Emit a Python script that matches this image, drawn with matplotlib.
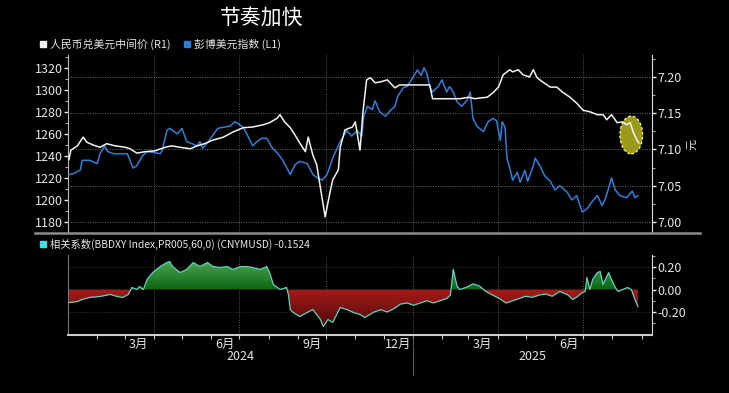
import numpy as np
import pandas as pd
import matplotlib
matplotlib.use('Agg')
import matplotlib.pyplot as plt
import matplotlib.dates as mdates
import matplotlib.transforms as mtransforms
from matplotlib.patches import Ellipse, Rectangle
from matplotlib.path import Path

plt.rcParams['font.family'] = ['Noto Sans CJK SC', 'DejaVu Sans']
plt.rcParams['axes.unicode_minus'] = False

# values; x given as days after 2024-01-01
start = pd.Timestamp('2024-01-01')

bbdxy_days = [1, 6, 13, 15, 23, 31, 34, 39, 42, 48,
              63, 69, 73, 79, 84, 98, 100, 105, 108, 116,
              121, 126, 132, 137, 140, 143, 149, 159, 165, 172,
              177, 181, 186, 191, 196, 202, 206, 211, 217, 223,
              228, 236, 241, 246, 254, 260, 265, 270, 275, 281,
              289, 296, 301, 307, 312, 314, 318, 323, 326, 331,
              337, 342, 347, 350, 356, 360, 366, 371, 375, 378,
              381, 384, 387, 393, 397, 402, 405, 409, 413, 418,
              424, 427, 430, 434, 441, 446, 451, 455, 459, 461,
              464, 466, 469, 472, 477, 480, 485, 488, 494, 496,
              501, 506, 512, 517, 522, 530, 535, 540, 546, 551,
              556, 562, 567, 570, 573, 577, 581, 586, 593, 599,
              602, 605]
bbdxy = [1223, 1224, 1227, 1236, 1236, 1233, 1242, 1249, 1244, 1242,
         1242, 1229, 1231, 1240, 1244, 1242, 1245, 1263, 1265, 1260,
         1265, 1253, 1251, 1249, 1253, 1247, 1253, 1265, 1266, 1267,
         1271, 1269, 1266, 1258, 1249, 1254, 1256, 1256, 1247, 1242,
         1236, 1223, 1232, 1235, 1233, 1223, 1220, 1218, 1223, 1238,
         1253, 1263, 1258, 1263, 1258, 1276, 1285, 1282, 1290, 1280,
         1276, 1281, 1285, 1294, 1302, 1303, 1311, 1318, 1313, 1320,
         1315, 1303, 1298, 1303, 1309, 1298, 1303, 1298, 1289, 1285,
         1291, 1298, 1274, 1267, 1262, 1271, 1274, 1272, 1254, 1271,
         1266, 1238, 1229, 1218, 1225, 1216, 1227, 1217, 1231, 1238,
         1231, 1222, 1217, 1209, 1213, 1207, 1200, 1204, 1189, 1192,
         1198, 1204, 1195, 1200, 1208, 1220, 1209, 1204, 1202, 1208,
         1202, 1204]

cny_days = [1, 3, 10, 16, 20, 27, 34, 41, 50, 61,
            66, 73, 82, 92, 103, 110, 119, 130, 137, 145,
            154, 165, 175, 186, 196, 207, 214, 222, 225, 230,
            236, 241, 246, 252, 255, 260, 264, 268, 271, 273,
            278, 281, 287, 289, 294, 302, 305, 310, 313, 317,
            321, 326, 331, 339, 347, 352, 360, 368, 374, 384,
            387, 395, 406, 416, 425, 432, 437, 445, 451, 457,
            462, 469, 472, 478, 483, 490, 494, 498, 504, 512,
            519, 525, 533, 540, 547, 554, 562, 568, 572, 577,
            583, 589, 593, 597, 600, 604, 606]
cny_fix = [7.086, 7.099, 7.105, 7.117, 7.110, 7.106, 7.103, 7.108, 7.105, 7.103,
           7.101, 7.095, 7.097, 7.098, 7.103, 7.105, 7.103, 7.101, 7.105, 7.108,
           7.113, 7.117, 7.124, 7.130, 7.131, 7.134, 7.137, 7.143, 7.148, 7.138,
           7.130, 7.120, 7.109, 7.097, 7.117, 7.092, 7.079, 7.047, 7.023, 7.007,
           7.040, 7.058, 7.072, 7.103, 7.127, 7.131, 7.138, 7.099, 7.150, 7.196,
           7.199, 7.192, 7.193, 7.196, 7.185, 7.189, 7.189, 7.189, 7.189, 7.189,
           7.170, 7.170, 7.170, 7.170, 7.172, 7.170, 7.171, 7.172, 7.178, 7.186,
           7.203, 7.210, 7.207, 7.210, 7.203, 7.200, 7.210, 7.199, 7.193, 7.186,
           7.186, 7.179, 7.172, 7.164, 7.154, 7.152, 7.148, 7.148, 7.141, 7.148,
           7.137, 7.138, 7.134, 7.137, 7.124, 7.113, 7.109]

corr_days = [1, 10, 15, 23, 34, 45, 52, 58, 64, 68,
             73, 76, 80, 84, 90, 98, 105, 108, 111, 119,
             126, 133, 140, 148, 154, 161, 169, 175, 183, 190,
             196, 204, 211, 214, 218, 225, 232, 234, 236, 239,
             246, 254, 260, 268, 271, 276, 281, 289, 296, 303,
             310, 315, 325, 332, 339, 346, 353, 360, 367, 374,
             381, 388, 395, 402, 406, 409, 413, 416, 423, 430,
             437, 444, 451, 458, 465, 472, 479, 486, 493, 500,
             507, 514, 522, 530, 536, 541, 546, 549, 551, 554,
             557, 562, 565, 568, 572, 574, 577, 581, 584, 589,
             594, 598, 602, 605]
corr = [-0.116, -0.107, -0.089, -0.071, -0.062, -0.044, -0.062, -0.071, -0.044, 0.018,
        0.000, 0.027, 0.000, 0.089, 0.151, 0.204, 0.240, 0.249, 0.204, 0.151,
        0.178, 0.240, 0.204, 0.240, 0.204, 0.196, 0.204, 0.178, 0.204, 0.204,
        0.196, 0.178, 0.204, 0.151, 0.044, 0.000, 0.018, -0.044, -0.178, -0.204,
        -0.240, -0.204, -0.178, -0.267, -0.329, -0.267, -0.293, -0.160, -0.178, -0.204,
        -0.222, -0.249, -0.200, -0.180, -0.200, -0.170, -0.130, -0.120, -0.140, -0.120,
        -0.100, -0.120, -0.100, -0.080, -0.050, 0.180, 0.030, 0.000, 0.020, 0.050,
        0.030, -0.020, -0.050, -0.080, -0.120, -0.100, -0.080, -0.060, -0.070, -0.050,
        -0.040, -0.060, -0.018, -0.044, -0.089, -0.062, -0.027, -0.018, 0.107, 0.000,
        0.089, 0.151, 0.160, 0.044, 0.116, 0.151, 0.089, 0.018, -0.018, 0.000,
        0.018, 0.000, -0.089, -0.152]

left_ticks = [1180, 1200, 1220, 1240, 1260, 1280, 1300, 1320]
right_ticks = [7.00, 7.05, 7.10, 7.15, 7.20]
corr_ticks = [-0.20, 0.00, 0.20]
month_labels = ['3月', '6月', '9月', '12月', '3月', '6月']
month_label_dates = pd.to_datetime(['2024-03-16', '2024-06-16', '2024-09-16',
                                    '2024-12-16', '2025-03-16', '2025-06-16'])
quarter_lines = pd.to_datetime(['2024-04-01', '2024-07-01', '2024-10-01',
                                '2025-01-01', '2025-04-01', '2025-07-01'])

bbdxy_dates = start + pd.to_timedelta(bbdxy_days, unit='D')
cny_dates = start + pd.to_timedelta(cny_days, unit='D')
corr_dates = start + pd.to_timedelta(corr_days, unit='D')

BG = 'black'
FG = '#e6e6e6'
BLUE = '#2f7fd9'
WHITE = '#f2f2f2'
TEAL = '#62d2c2'

fig = plt.figure(figsize=(7.29, 3.93), dpi=100, facecolor=BG)
ax = fig.add_axes([68 / 729, 1 - 233 / 393, 584 / 729, 178 / 393], facecolor=BG)
ax2 = ax.twinx()
axb = fig.add_axes([68 / 729, 1 - 335 / 393, 584 / 729, 80 / 393], facecolor=BG)

xmin, xmax = pd.Timestamp('2024-01-01'), pd.Timestamp('2025-09-12')

# top panel
ax.plot(bbdxy_dates, bbdxy, color=BLUE, lw=1.1, zorder=3)
ax2.plot(cny_dates, cny_fix, color=WHITE, lw=1.1, zorder=4)
ax.set_xlim(xmin, xmax)
ax.set_ylim(1172.9, 1331.6)
ax2.set_ylim(6.9848, 7.2303)

for q in quarter_lines:
    ax.axvline(q, color='#5a5a5a', lw=0.7, ls=(0, (1, 1.5)), zorder=1)
    axb.axvline(q, color='#5a5a5a', lw=0.7, ls=(0, (1, 1.5)), zorder=1)
for t in right_ticks:
    ax2.axhline(t, color='#6a6a6a', lw=0.7, ls=(0, (1, 1.5)), zorder=1)

ax.set_yticks(left_ticks)
ax.set_yticks(np.arange(1170, 1331, 10), minor=True)
ax.set_xticks([])
ax2.set_yticks(right_ticks)
ax2.set_yticklabels(['%.2f' % t for t in right_ticks])
ax2.set_yticks(np.arange(7.0, 7.23, 0.025), minor=True)
ax.tick_params(axis='y', colors=FG, labelsize=9, length=3, width=1, pad=1)
ax.tick_params(axis='y', which='minor', colors='#aaaaaa', length=2, width=0.8)
ax2.tick_params(axis='y', colors=FG, labelsize=9, length=3, width=1, pad=1)
ax2.tick_params(axis='y', which='minor', colors='#aaaaaa', length=2, width=0.8)
ax2.set_ylabel('元', color=FG, fontsize=8, rotation=90, labelpad=4)

for a in (ax, ax2):
    for s in ('top', 'bottom'):
        a.spines[s].set_visible(False)
ax.spines['left'].set_color('#bbbbbb')
ax.spines['right'].set_visible(False)
ax2.spines['left'].set_visible(False)
ax2.spines['right'].set_color('#dddddd')

# highlight ellipse on the latest drop
ell = Ellipse((mdates.date2num(pd.Timestamp('2025-08-21')), 7.120), width=24, height=0.052,
              facecolor='#9c9a1c', edgecolor='#f2f070', lw=1.0, ls=(0, (2, 1.5)), zorder=3)
ax2.add_patch(ell)

# bottom panel: correlation with gradient fills
axb.plot(corr_dates, corr, color=TEAL, lw=0.9, zorder=4)
axb.set_xlim(xmin, xmax)
ylo, yhi = -0.4044, 0.3067
poly = axb.fill_between(corr_dates, corr, 0, facecolor='none', edgecolor='none')
clip = Path.make_compound_path(*poly.get_paths())
yy = np.linspace(ylo, yhi, 300)
img = np.zeros((len(yy), 1, 3))
g_lo, g_hi = np.array([0.04, 0.40, 0.07]), np.array([0.30, 0.64, 0.32])
r_hi, r_lo = np.array([0.66, 0.10, 0.10]), np.array([0.28, 0.04, 0.04])
for k, v in enumerate(yy):
    if v >= 0:
        t = v / 0.25
        img[k, 0] = g_lo * (1 - min(t, 1)) + g_hi * min(t, 1)
    else:
        t = v / -0.35
        img[k, 0] = r_hi * (1 - min(t, 1)) + r_lo * min(t, 1)
im = axb.imshow(img, extent=[mdates.date2num(xmin), mdates.date2num(xmax), ylo, yhi],
                origin='lower', aspect='auto', interpolation='bilinear', zorder=2)
im.set_clip_path(clip, transform=axb.transData)
axb.set_xlim(xmin, xmax)
axb.set_ylim(ylo, yhi)
for t in (-0.2, 0.2):
    axb.axhline(t, color='#3c3c3c', lw=0.6, ls=(0, (1, 1.5)), zorder=1)

axb.yaxis.tick_right()
axb.set_yticks(corr_ticks)
axb.set_yticklabels(['%.2f' % t for t in corr_ticks])
axb.set_yticks([-0.3, -0.1, 0.1, 0.3], minor=True)
axb.tick_params(axis='y', colors=FG, labelsize=9, length=3, width=1, pad=1)
axb.tick_params(axis='y', which='minor', colors='#aaaaaa', length=2, width=0.8)
axb.spines['top'].set_visible(False)
axb.spines['left'].set_color('#777777')
axb.spines['right'].set_color('#dddddd')
axb.spines['bottom'].set_color('#cccccc')
axb.spines['bottom'].set_linewidth(1.5)

axb.set_xticks(month_label_dates)
axb.set_xticklabels(month_labels)
axb.set_xticks(pd.date_range('2024-02-01', '2025-09-01', freq='MS'), minor=True)
axb.tick_params(axis='x', which='major', colors=FG, labelsize=9, length=0, pad=2)
axb.tick_params(axis='x', which='minor', colors='#cccccc', length=3, width=0.8)

bt = mtransforms.blended_transform_factory(axb.transData, axb.transAxes)
axb.plot([pd.Timestamp('2025-01-01')] * 2, [0, -0.5], transform=bt, color='#6a6a6a',
         lw=0.6, clip_on=False)
axb.text(pd.Timestamp('2024-07-02'), -0.27, '2024', transform=bt, color=FG, fontsize=9,
         ha='center', va='center')
axb.text(pd.Timestamp('2025-05-08'), -0.27, '2025', transform=bt, color=FG, fontsize=9,
         ha='center', va='center')

# title, legends, separators
fig.text(262 / 729, 1 - 18 / 393, '节奏加快', color='white', fontsize=15, ha='center', va='center')
fig.patches.append(Rectangle((40 / 729, 1 - 47 / 393), 6 / 729, 6 / 393, color=WHITE,
                             transform=fig.transFigure))
fig.text(50 / 729, 1 - 44 / 393, '人民币兑美元中间价 (R1)', color=FG, fontsize=7.8, va='center')
fig.patches.append(Rectangle((184 / 729, 1 - 47 / 393), 6 / 729, 6 / 393, color=BLUE,
                             transform=fig.transFigure))
fig.text(194 / 729, 1 - 44 / 393, '彭博美元指数 (L1)', color=FG, fontsize=7.8, va='center')
fig.patches.append(Rectangle((40 / 729, 1 - 247 / 393), 6 / 729, 6 / 393, color='#3fe0e0',
                             transform=fig.transFigure))
fig.text(50 / 729, 1 - 244 / 393, '相关系数(BBDXY Index,PR005,60,0) (CNYMUSD) -0.1524',
         color=FG, fontsize=7.4, va='center')
fig.lines.append(plt.Line2D([35 / 729, 700 / 729], [1 - 233 / 393] * 2, color='#8c8c8c',
                            lw=1.8, transform=fig.transFigure))

fig.savefig('out.png', dpi=100, facecolor=BG)
